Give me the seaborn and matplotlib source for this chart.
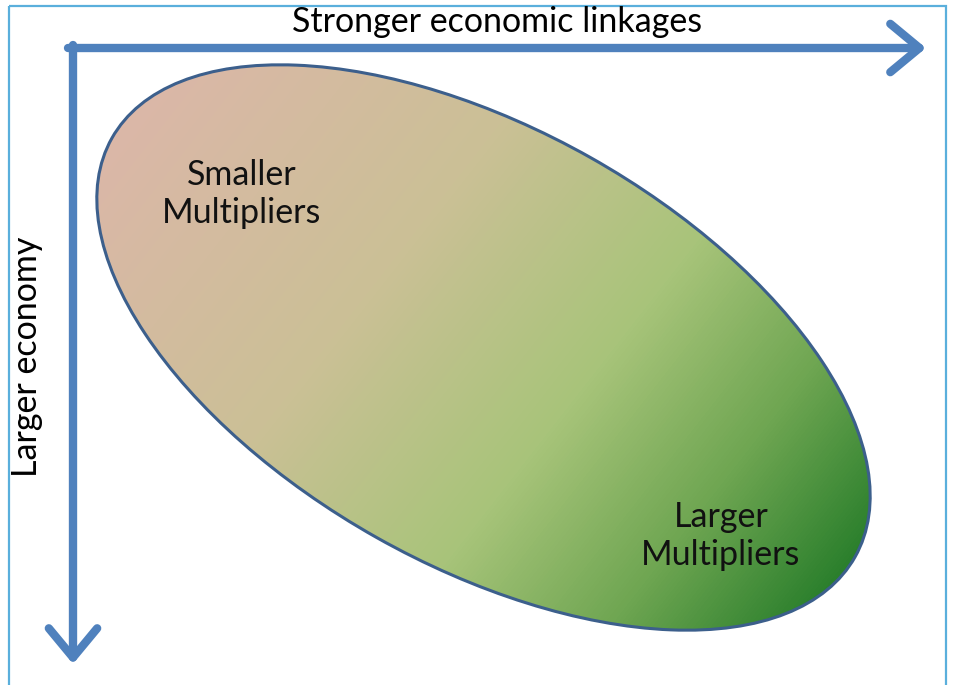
import matplotlib
matplotlib.use("Agg")
import matplotlib.pyplot as plt
from matplotlib.patches import Ellipse, Rectangle
from matplotlib.colors import LinearSegmentedColormap
import numpy as np
import seaborn as sns

# labels of the diagram
axis_labels = ["Stronger economic linkages", "Larger economy"]
region_labels = ["Smaller\nMultipliers", "Larger\nMultipliers"]

# gradient stops along the ellipse (top-left -> bottom-right)
grad_pos = [0.0, 0.35, 0.62, 0.82, 1.0]
grad_cols = ["#dbb7a8", "#cbc096", "#a8c47a", "#6fa652", "#2a7f2c"]

sns.set_theme(style="white")
plt.rcParams["font.family"] = ["Lato", "DejaVu Sans"]

fig = plt.figure(figsize=(9.54, 6.85), dpi=100)
ax = fig.add_axes([0, 0, 1, 1])
ax.set_xlim(0, 954)
ax.set_ylim(685, 0)
ax.axis("off")

arrow_col = "#4f81bd"

# outer frame
ax.add_patch(Rectangle((9, 6), 937, 690, fill=False, ec="#5aafdc", lw=1.6))

# ellipse with gradient fill
cx, cy, w, h, ang = 483.5, 347.5, 853, 436, 29.4
ell = Ellipse((cx, cy), w, h, angle=ang, fc="none", ec="#3c5f8c", lw=2.2, zorder=3)
ax.add_patch(ell)

xs = np.arange(0, 954)
ys = np.arange(0, 685)
X, Y = np.meshgrid(xs, ys)
phi = np.deg2rad(38)
proj = (X - cx) * np.cos(phi) + (Y - cy) * np.sin(phi)
tt = np.linspace(0, 2 * np.pi, 400)
r = np.deg2rad(ang)
ex = cx + w / 2 * np.cos(tt) * np.cos(r) - h / 2 * np.sin(tt) * np.sin(r)
ey = cy + w / 2 * np.cos(tt) * np.sin(r) + h / 2 * np.sin(tt) * np.cos(r)
ep = (ex - cx) * np.cos(phi) + (ey - cy) * np.sin(phi)
T = (proj - ep.min()) / (ep.max() - ep.min())
cmap = LinearSegmentedColormap.from_list("grad", list(zip(grad_pos, grad_cols)))
im = ax.imshow(T, cmap=cmap, vmin=0, vmax=1, extent=(0, 954, 685, 0),
               origin="upper", zorder=2, interpolation="bilinear")
im.set_clip_path(ell)

# axes arrows
head = "->,head_length=1.75,head_width=1.45"
ax.annotate("", xy=(926, 48), xytext=(68, 48),
            arrowprops=dict(arrowstyle=head, color=arrow_col, lw=6,
                            capstyle="round", joinstyle="round",
                            shrinkA=0, shrinkB=0))
ax.annotate("", xy=(73, 664), xytext=(73, 45),
            arrowprops=dict(arrowstyle=head, color=arrow_col, lw=6,
                            capstyle="round", joinstyle="round",
                            shrinkA=0, shrinkB=0))

# text
ax.text(497, 22, axis_labels[0], ha="center", va="center", fontsize=24.5, color="black")
ax.text(27, 357, axis_labels[1], ha="center", va="center", fontsize=24.5,
        rotation=90, color="black")
ax.text(242, 194, region_labels[0], ha="center", va="center", fontsize=24.5,
        linespacing=1.2, color="#111111", zorder=4)
ax.text(721, 536, region_labels[1], ha="center", va="center", fontsize=24.5,
        linespacing=1.2, color="#111111", zorder=4)

fig.savefig("out.png", dpi=100, facecolor="white")
